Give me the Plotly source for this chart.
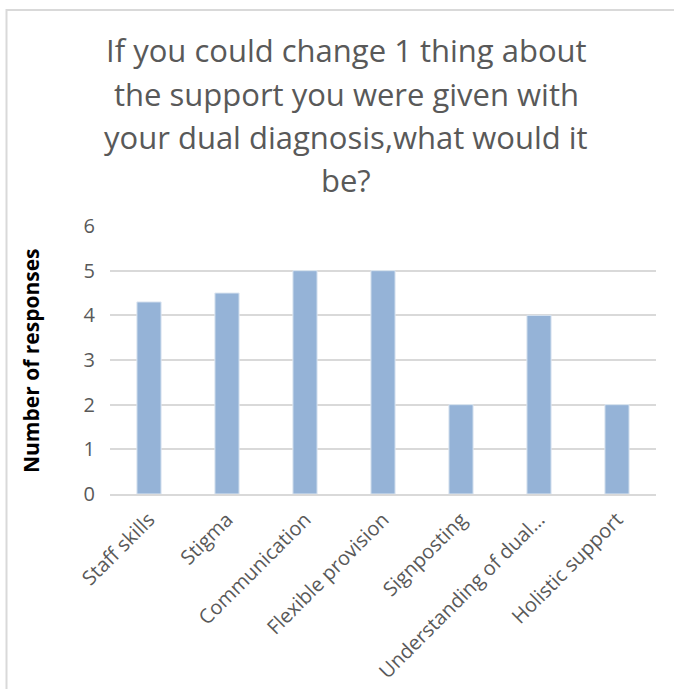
import plotly.graph_objects as go

categories = ["Staff skills", "Stigma", "Communication", "Flexible provision",
              "Signposting", "Understanding of dual…", "Holistic support"]
responses = [4.3, 4.5, 5, 5, 2, 4, 2]
title_lines = ["If you could change 1 thing about",
               "the support you were given with",
               "your dual diagnosis,what would it",
               "be?"]
y_title = "Number of responses"

W, H = 674, 689
ML, MR, MT, MB = 110, 18, 226, 195
PW, PH = W - ML - MR, H - MT - MB

def px_x(x):
    return (x - ML) / PW

def px_y(y):
    return (H - MB - y) / PH

FONT = "Open Sans"
GREY = "#595959"

fig = go.Figure(go.Bar(
    x=categories, y=responses,
    marker=dict(color="#95B3D7", line=dict(color="#DCE6F1", width=1)),
    width=0.31,
))

annotations = []
for i, (line, yc) in enumerate(zip(title_lines, [50, 94, 137, 180])):
    annotations.append(dict(
        text=line, xref="paper", yref="paper", x=px_x(346), y=px_y(yc),
        xanchor="center", yanchor="middle", showarrow=False,
        font=dict(family=FONT, size=31, color=GREY)))

annotations.append(dict(
    text="<b>" + y_title + "</b>", xref="paper", yref="paper",
    x=px_x(31), y=px_y(360), xanchor="center", yanchor="middle",
    textangle=-90, showarrow=False,
    font=dict(family=FONT, size=21, color="black")))

fig.update_layout(
    width=W, height=H,
    margin=dict(l=ML, r=MR, t=MT, b=MB),
    paper_bgcolor="white", plot_bgcolor="white",
    showlegend=False,
    annotations=annotations,
    shapes=[dict(type="rect", xref="paper", yref="paper",
                 x0=px_x(6.5), x1=px_x(700), y0=px_y(720), y1=px_y(10),
                 line=dict(color="#D9D9D9", width=2), layer="below")],
    xaxis=dict(tickangle=-45, tickfont=dict(family=FONT, size=20, color=GREY),
               showline=True, linecolor="#D9D9D9", linewidth=2,
               showgrid=False, ticks="", ticklabelstandoff=4, automargin=False),
    yaxis=dict(range=[0, 6], dtick=1, tickfont=dict(family=FONT, size=20, color=GREY),
               showgrid=True, gridcolor="#D9D9D9", gridwidth=2,
               zeroline=False, ticks="", ticklen=0, ticklabelstandoff=14,
               automargin=False),
)

fig.write_html("out.html")
